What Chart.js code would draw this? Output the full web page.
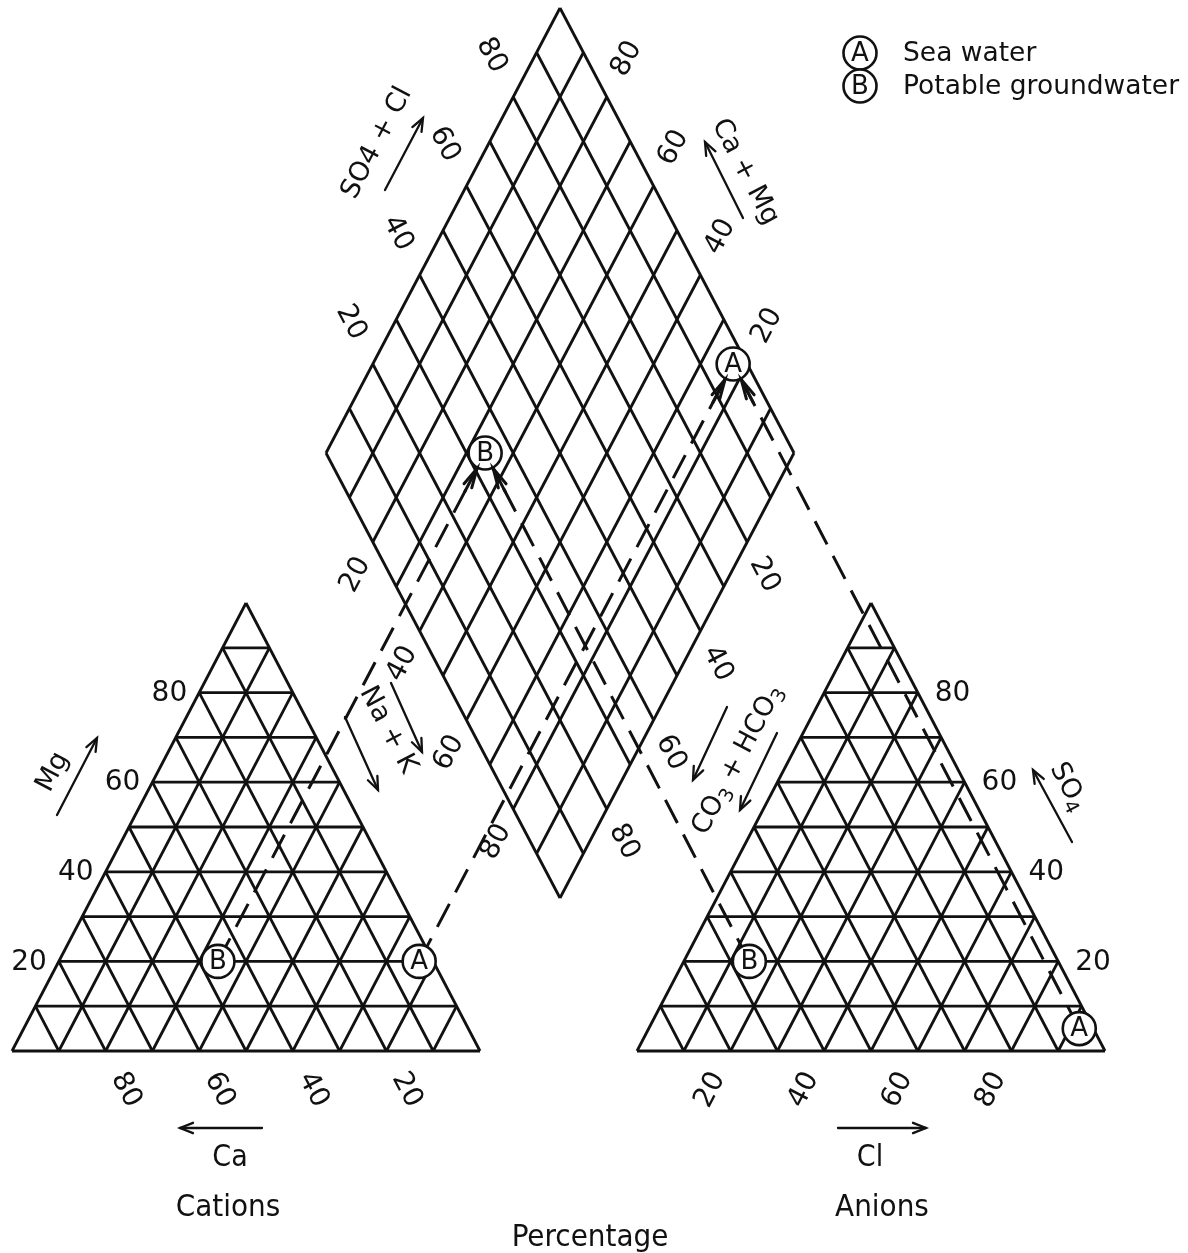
<!DOCTYPE html>
<html>
<head>
<meta charset="utf-8">
<title>Piper diagram</title>
<script src="https://cdn.jsdelivr.net/npm/chart.js@4.4.0/dist/chart.umd.min.js"></script>
<style>
  html, body { margin: 0; padding: 0; background: #fff; }
  #wrap { width: 1188px; height: 1253px; }
</style>
</head>
<body>
<div id="wrap"><canvas id="piper"></canvas></div>
<script>
// samples plotted (percent of total meq/l)
const sampleKeys = ["A", "B"];
const sampleNames = ["Sea water", "Potable groundwater"];
// cations
const caPct = [3, 46];
const mgPct = [20, 20];
const naKPct = [77, 34];
// anions
const hco3Pct = [3, 66];
const so4Pct = [5, 20];
const clPct = [92, 14];
// grid + ticks
const gridSteps = [0, 10, 20, 30, 40, 50, 60, 70, 80, 90, 100];
const tickValues = [20, 40, 60, 80];

// layout of the three fields (page pixels)
const PAGE_W = 1188, PAGE_H = 1253;
const SIDE = 468, TRI_H = 448, BASE_Y = 1051;
const CAT_X0 = 12, AN_X0 = 637;
const DIA_TOP = { x: 560, y: 8 };
const DIA_HW = 234, DIA_HH = 445;
const DIA_L = { x: DIA_TOP.x - DIA_HW, y: DIA_TOP.y + DIA_HH };

const INK = "#111";
const FONT = '"DejaVu Sans", "Noto Sans", sans-serif';
const FONT_NARROW = '"DejaVu Sans Condensed", "Liberation Sans Narrow", "DejaVu Sans", sans-serif';

function cationXY(ca, mg, nak) {
  return { x: CAT_X0 + (nak + mg / 2) / 100 * SIDE, y: BASE_Y - mg / 100 * TRI_H };
}
function anionXY(hco3, so4, cl) {
  return { x: AN_X0 + (cl + so4 / 2) / 100 * SIDE, y: BASE_Y - so4 / 100 * TRI_H };
}
// nak = Na+K %, sc = SO4+Cl %
function diamondXY(nak, sc) {
  return {
    x: DIA_L.x + (nak + sc) / 100 * DIA_HW,
    y: DIA_L.y + (nak - sc) / 100 * DIA_HH
  };
}

function segment(p1, p2, extra) {
  return Object.assign({
    data: [p1, p2],
    showLine: true,
    borderColor: INK,
    borderWidth: 2.8,
    pointRadius: 0,
    order: 3
  }, extra || {});
}

const datasets = [];

// triangle grids
function triangleGrid(toXY) {
  gridSteps.forEach((f) => {
    if (f === 100) return;
    // constant top component (horizontal)
    datasets.push(segment(toXY(100 - f, f, 0), toXY(0, f, 100 - f)));
    // constant left-vertex component
    datasets.push(segment(toXY(f, 0, 100 - f), toXY(f, 100 - f, 0)));
    // constant right-vertex component
    datasets.push(segment(toXY(100 - f, 0, f), toXY(0, 100 - f, f)));
  });
}
triangleGrid(cationXY);
triangleGrid(anionXY);

// diamond grid
gridSteps.forEach((f) => {
  datasets.push(segment(diamondXY(f, 0), diamondXY(f, 100)));
  datasets.push(segment(diamondXY(0, f), diamondXY(100, f)));
});

// projection lines and sample points
const projIdx = [];
sampleKeys.forEach((key, i) => {
  const c = cationXY(caPct[i], mgPct[i], naKPct[i]);
  const a = anionXY(hco3Pct[i], so4Pct[i], clPct[i]);
  const d = diamondXY(naKPct[i], so4Pct[i] + clPct[i]);
  [c, a].forEach((p) => {
    projIdx.push(datasets.length);
    datasets.push(segment(p, d, { borderWidth: 3, borderDash: [26, 13], order: 2 }));
  });
});
const pointIdx = [];
sampleKeys.forEach((key, i) => {
  pointIdx.push(datasets.length);
  datasets.push({
    label: sampleNames[i],
    data: [
      cationXY(caPct[i], mgPct[i], naKPct[i]),
      anionXY(hco3Pct[i], so4Pct[i], clPct[i]),
      diamondXY(naKPct[i], so4Pct[i] + clPct[i])
    ],
    showLine: false,
    pointRadius: 16.5,
    pointBackgroundColor: "#fff",
    pointBorderColor: INK,
    pointBorderWidth: 2.6,
    order: 1
  });
});

// ---- drawing helpers ----
function arrowHead(ctx, x1, y1, x2, y2, len, spread) {
  const ang = Math.atan2(y2 - y1, x2 - x1);
  ctx.beginPath();
  ctx.moveTo(x2 - len * Math.cos(ang - spread), y2 - len * Math.sin(ang - spread));
  ctx.lineTo(x2, y2);
  ctx.lineTo(x2 - len * Math.cos(ang + spread), y2 - len * Math.sin(ang + spread));
  ctx.stroke();
}
function arrow(ctx, x1, y1, x2, y2) {
  ctx.beginPath();
  ctx.moveTo(x1, y1);
  ctx.lineTo(x2, y2);
  ctx.stroke();
  arrowHead(ctx, x1, y1, x2, y2, 14, 0.38);
}
function rich(ctx, parts, x, y, angle, size, family) {
  ctx.save();
  ctx.translate(x, y);
  ctx.rotate(angle);
  ctx.textBaseline = "middle";
  ctx.textAlign = "left";
  let total = 0;
  const widths = parts.map((p) => {
    ctx.font = (p.sub ? size * 0.72 : size) + "px " + family;
    const w = ctx.measureText(p.t).width;
    total += w;
    return w;
  });
  let cx = -total / 2;
  parts.forEach((p, k) => {
    ctx.font = (p.sub ? size * 0.72 : size) + "px " + family;
    ctx.fillText(p.t, cx, p.sub ? size * 0.28 : 0);
    cx += widths[k];
  });
  ctx.restore();
}

const ANG_T = Math.atan2(TRI_H, SIDE / 2);
const ANG_D = Math.atan2(DIA_HH, DIA_HW);

const piperText = {
  id: "piperText",
  afterDatasetsDraw(chart) {
    const ctx = chart.ctx;
    const sx = chart.scales.x, sy = chart.scales.y;
    const P = (p) => ({ x: sx.getPixelForValue(p.x), y: sy.getPixelForValue(p.y) });
    ctx.save();
    ctx.fillStyle = INK;
    ctx.strokeStyle = INK;
    ctx.lineCap = "round";

    // arrowheads of the projection lines, stopping on the circle
    projIdx.forEach((di) => {
      const pts = chart.getDatasetMeta(di).data;
      const a = pts[0], b = pts[1];
      const len = Math.hypot(b.x - a.x, b.y - a.y);
      const ux = (b.x - a.x) / len, uy = (b.y - a.y) / len;
      const tx = b.x - ux * 17.5, ty = b.y - uy * 17.5;
      ctx.lineWidth = 3;
      ctx.beginPath();
      ctx.moveTo(tx - ux * 26, ty - uy * 26);
      ctx.lineTo(tx, ty);
      ctx.stroke();
      arrowHead(ctx, tx - ux * 30, ty - uy * 30, tx, ty, 20, 0.22);
    });

    // letters inside the sample circles
    ctx.font = "26px " + FONT;
    ctx.textAlign = "center";
    ctx.textBaseline = "middle";
    pointIdx.forEach((di, i) => {
      chart.getDatasetMeta(di).data.forEach((el) => {
        ctx.fillText(sampleKeys[i], el.x, el.y + 1);
      });
    });

    // tick labels
    ctx.font = "28px " + FONT;
    tickValues.forEach((v) => {
      // Mg, left side of cation triangle
      let p = P(cationXY(100 - v, v, 0));
      ctx.textAlign = "right";
      ctx.fillText(String(v), p.x - 12, p.y + 1);
      // SO4, right side of anion triangle
      p = P(anionXY(0, v, 100 - v));
      ctx.textAlign = "left";
      ctx.fillText(String(v), p.x + 17, p.y + 1);
    });
    const dT = { x: Math.cos(ANG_T), y: Math.sin(ANG_T) };
    const dD = { x: Math.cos(ANG_D), y: Math.sin(ANG_D) };
    const lab = (v, p, ox, oy, ang) => rich(ctx, [{ t: String(v) }], p.x + ox, p.y + oy, ang, 28, FONT);
    tickValues.forEach((v) => {
      // Ca along the cation base
      lab(v, P(cationXY(v, 0, 100 - v)), dT.x * 44, dT.y * 44, ANG_T);
      // Cl along the anion base
      lab(v, P(anionXY(100 - v, 0, v)), -dT.x * 44, dT.y * 44, -ANG_T);
      // diamond: SO4+Cl (upper left)
      lab(v, P(diamondXY(0, v)), -dD.x * 47, -dD.y * 47, ANG_D);
      // diamond: Ca+Mg (upper right)
      lab(v, P(diamondXY(100 - v, 100)), dD.x * 43, -dD.y * 43, -ANG_D);
      // diamond: Na+K (lower left)
      lab(v, P(diamondXY(v, 0)), -dD.x * 37, dD.y * 37, -ANG_D);
      // diamond: CO3+HCO3 (lower right)
      lab(v, P(diamondXY(100, 100 - v)), dD.x * 37, dD.y * 37, ANG_D);
    });

    // axis titles and arrows
    ctx.lineWidth = 2.3;
    rich(ctx, [{ t: "SO4 + Cl" }], 377, 143, -ANG_D, 27, FONT);
    arrow(ctx, 385, 190, 423, 118);
    rich(ctx, [{ t: "Ca + Mg" }], 745, 172, ANG_D, 27, FONT);
    arrow(ctx, 743, 218, 705, 142);
    rich(ctx, [{ t: "Na + K" }], 388, 730, ANG_D, 27, FONT);
    arrow(ctx, 345, 717, 378, 790);
    arrow(ctx, 391, 683, 422, 752);
    rich(ctx, [{ t: "CO" }, { t: "3", sub: true }, { t: " + HCO" }, { t: "3", sub: true }], 738, 760, -ANG_D, 27, FONT);
    arrow(ctx, 727, 707, 693, 780);
    arrow(ctx, 777, 733, 740, 810);
    rich(ctx, [{ t: "SO" }, { t: "4", sub: true }], 1068, 787, ANG_T, 27, FONT);
    arrow(ctx, 1072, 842, 1033, 770);
    rich(ctx, [{ t: "Mg" }], 53, 772, -ANG_T, 27, FONT);
    arrow(ctx, 57, 815, 97, 738);

    arrow(ctx, 262, 1128, 180, 1128);
    rich(ctx, [{ t: "Ca" }], 230, 1158, 0, 30, FONT_NARROW);
    arrow(ctx, 838, 1128, 926, 1128);
    rich(ctx, [{ t: "Cl" }], 870, 1158, 0, 30, FONT_NARROW);
    rich(ctx, [{ t: "Cations" }], 228, 1208, 0, 31, FONT_NARROW);
    rich(ctx, [{ t: "Anions" }], 882, 1208, 0, 31, FONT_NARROW);
    rich(ctx, [{ t: "Percentage" }], 590, 1238, 0, 31, FONT_NARROW);

    // legend
    const legY = [53, 86];
    sampleKeys.forEach((key, i) => {
      ctx.lineWidth = 2.6;
      ctx.fillStyle = "#fff";
      ctx.beginPath();
      ctx.arc(860, legY[i], 16.5, 0, Math.PI * 2);
      ctx.fill();
      ctx.stroke();
      ctx.fillStyle = INK;
      ctx.font = "26px " + FONT;
      ctx.textAlign = "center";
      ctx.fillText(key, 860, legY[i] + 1);
      ctx.font = "26.5px " + FONT;
      ctx.textAlign = "left";
      ctx.fillText(sampleNames[i], 903, legY[i] + 1);
    });
    ctx.restore();
  }
};

new Chart(document.getElementById("piper"), {
  type: "scatter",
  data: { datasets: datasets },
  options: {
    animation: false,
    responsive: true,
    maintainAspectRatio: false,
    layout: { padding: 0, autoPadding: false },
    plugins: { legend: { display: false }, tooltip: { enabled: false } },
    scales: {
      x: { type: "linear", min: 0, max: PAGE_W, display: false },
      y: { type: "linear", min: 0, max: PAGE_H, reverse: true, display: false }
    }
  },
  plugins: [piperText]
});
</script>
</body>
</html>
